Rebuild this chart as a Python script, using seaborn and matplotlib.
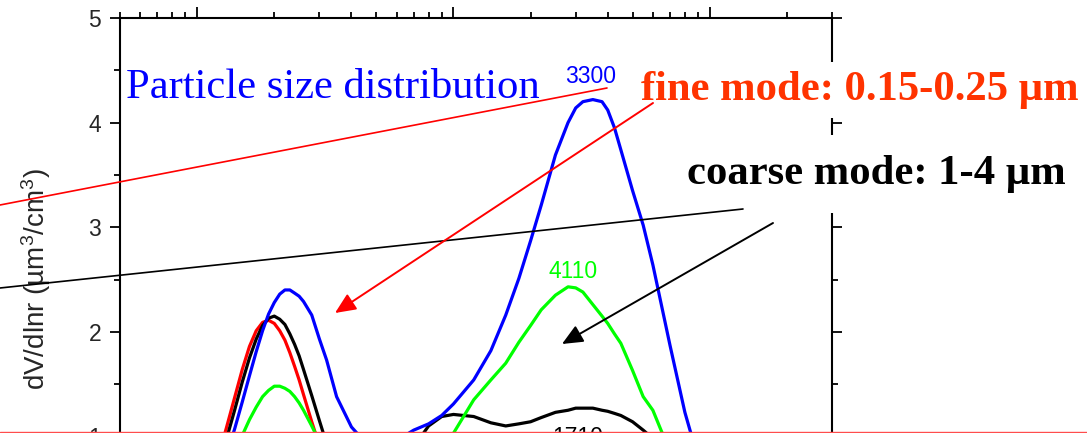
import matplotlib
matplotlib.use("Agg")
import matplotlib.pyplot as plt
import pandas as pd
import seaborn as sns
from matplotlib.lines import Line2D
from matplotlib.patches import FancyArrowPatch
from matplotlib.ticker import LogLocator, MultipleLocator, NullFormatter

# ---------------- data ----------------
size_um = [0.05, 0.07, 0.09, 0.10, 0.11, 0.12, 0.13, 0.14, 0.15, 0.16, 0.17, 0.18,
           0.19, 0.20, 0.21, 0.22, 0.23, 0.24, 0.25, 0.26, 0.28, 0.30, 0.32, 0.35,
           0.40, 0.45, 0.50, 0.55, 0.60, 0.70, 0.80, 0.90, 1.0, 1.2, 1.4, 1.6, 1.8,
           2.0, 2.2, 2.5, 2.8, 3.0, 3.2, 3.5, 3.8, 4.0, 4.25, 4.5, 5.0, 5.5, 6.0, 7.0, 8.0,
           10.0, 12.0, 15.0, 20.0, 30.0]

red_dv = [0.05, 0.06, 0.14, 0.29, 0.50, 0.78, 1.08, 1.37, 1.64, 1.86, 2.01, 2.09,
          2.11, 2.08, 2.01, 1.92, 1.80, 1.67, 1.54, 1.40, 1.14, 0.91, 0.71, 0.48,
          0.23, 0.12, 0.08, 0.07, 0.08, 0.12, 0.18, 0.25, 0.32, 0.45, 0.56, 0.65, 0.72,
          0.77, 0.80, 0.82, 0.82, 0.80, 0.78, 0.73, 0.68, 0.64, 0.60, 0.55, 0.46, 0.38, 0.31,
          0.20, 0.12, 0.05, 0.03, 0.02, 0.01, 0.0]

black_dv = [0.04, 0.05, 0.13, 0.26, 0.45, 0.69, 0.97, 1.25, 1.52, 1.75, 1.93, 2.06,
            2.13, 2.15, 2.12, 2.07, 1.98, 1.88, 1.77, 1.64, 1.39, 1.15, 0.93, 0.66,
            0.42, 0.33, 0.36, 0.48, 0.62, 0.90, 1.10, 1.19, 1.21, 1.19, 1.13, 1.10, 1.12,
            1.14, 1.18, 1.23, 1.25, 1.27, 1.27, 1.27, 1.25, 1.24, 1.22, 1.20, 1.14, 1.06, 0.98,
            0.82, 0.66, 0.40, 0.22, 0.10, 0.03, 0.0]

green_dv = [0.02, 0.04, 0.11, 0.21, 0.34, 0.49, 0.67, 0.84, 1.01, 1.16, 1.28, 1.38,
            1.44, 1.48, 1.48, 1.46, 1.43, 1.38, 1.32, 1.25, 1.10, 0.95, 0.80, 0.60,
            0.35, 0.25, 0.22, 0.25, 0.32, 0.55, 0.72, 0.88, 1.03, 1.35, 1.54, 1.70, 1.90,
            2.06, 2.21, 2.35, 2.43, 2.42, 2.38, 2.26, 2.15, 2.08, 1.98, 1.89, 1.63, 1.38, 1.25,
            0.85, 0.55, 0.25, 0.12, 0.05, 0.02, 0.0]

blue_dv = [0.03, 0.06, 0.12, 0.23, 0.38, 0.58, 0.82, 1.07, 1.33, 1.58, 1.81, 2.01,
           2.17, 2.28, 2.36, 2.40, 2.40, 2.37, 2.34, 2.29, 2.16, 1.93, 1.73, 1.38,
           1.09, 0.95, 0.89, 0.90, 0.96, 1.06, 1.12, 1.20, 1.31, 1.54, 1.82, 2.16, 2.51,
           2.87, 3.21, 3.69, 4.00, 4.14, 4.20, 4.22, 4.20, 4.12, 3.95, 3.74, 3.35, 3.02, 2.64,
           1.87, 1.23, 0.40, 0.15, 0.05, 0.02, 0.0]

series_names = ["red", "black", "green", "blue"]
series_colors = ["#ff0000", "#000000", "#00ff00", "#0000ff"]

peak_labels = ["3300", "4110", "1710"]
peak_label_x = [3.43, 2.92, 3.05]
peak_label_y = [4.38, 2.51, 0.93]
peak_label_colors = ["#0000ff", "#00ff00", "#000000"]

y_ticks = [1, 2, 3, 4, 5]
y_label = "dV/dlnr (µm$^3$/cm$^3$)"
title_text = "Particle size distribution"
fine_text = "fine mode: 0.15-0.25 µm"
coarse_text = "coarse mode: 1-4 µm"

# ---------------- style ----------------
sns.set_style("ticks")
plt.rcParams["font.family"] = ["Liberation Sans", "DejaVu Sans"]
plt.rcParams["mathtext.fontset"] = "custom"
plt.rcParams["mathtext.rm"] = "Liberation Sans"
plt.rcParams["mathtext.default"] = "regular"

W, H = 1087, 433
fig = plt.figure(figsize=(W / 100, H / 100), dpi=100)
ax = fig.add_axes([120 / W, 1 - 541 / H, 712 / W, 523 / H])


def fx(px):
    return px / W


def fy(py):
    return 1 - py / H


df = pd.concat([
    pd.DataFrame({"size": size_um, "dv": vals, "series": name})
    for name, vals in zip(series_names, [red_dv, black_dv, green_dv, blue_dv])
], ignore_index=True)

sns.lineplot(data=df, x="size", y="dv", hue="series", hue_order=series_names,
             palette=dict(zip(series_names, series_colors)), estimator=None,
             sort=False, legend=False, linewidth=2.3, ax=ax)

ax.set_xscale("log")
ax.set_xlim(0.05, 30)
ax.set_ylim(0, 5)
ax.set_xlabel("")
ax.set_ylabel(y_label, fontsize=20)
ax.yaxis.set_label_coords(-0.094, 0.5)

for s in ax.spines.values():
    s.set_visible(True)
    s.set_linewidth(1.5)
    s.set_color("black")

ax.xaxis.set_major_locator(LogLocator(base=10))
ax.xaxis.set_minor_locator(LogLocator(base=10, subs=[2, 3, 4, 5, 6, 7, 8, 9]))
ax.xaxis.set_minor_formatter(NullFormatter())
ax.tick_params(axis="x", which="both", top=True, bottom=False, labeltop=False,
               labelbottom=False, direction="out", width=1.3, color="black")
ax.tick_params(axis="x", which="major", length=8)
ax.tick_params(axis="x", which="minor", length=4)

ax.yaxis.set_major_locator(MultipleLocator(1))
ax.yaxis.set_minor_locator(MultipleLocator(0.5))
ax.set_yticks(y_ticks)
ax.set_yticklabels([str(t) for t in y_ticks])
ax.tick_params(axis="y", which="both", left=True, right=True, labelleft=True,
               labelright=False, direction="out", width=1.3, color="black")
ax.tick_params(axis="y", which="major", length=7.5, labelsize=16.5, pad=6)
ax.tick_params(axis="y", which="minor", length=4.5)

for lab, x, y, c in zip(peak_labels, peak_label_x, peak_label_y, peak_label_colors):
    ax.text(x, y, lab, color=c, fontsize=16.5, ha="center", va="baseline")

# ---------------- annotations ----------------
serif = ["Liberation Serif", "DejaVu Serif"]
fig.text(fx(126), fy(98), title_text, color="#0000ff", fontsize=30.7,
         family=serif, ha="left", va="baseline")
fig.text(fx(641), fy(100), fine_text, color="#ff3300", fontsize=30.7,
         family=serif, weight="bold", ha="left", va="baseline",
         bbox=dict(facecolor="white", edgecolor="none", pad=6))
fig.text(fx(687), fy(184), coarse_text, color="black", fontsize=30.7,
         family=serif, weight="bold", ha="left", va="baseline",
         bbox=dict(facecolor="white", edgecolor="none", pad=14))

# long pointer lines
fig.add_artist(Line2D([fx(0), fx(607)], [fy(205), fy(88)], transform=fig.transFigure,
                      color="#ff0000", lw=1.2, zorder=6))
fig.add_artist(Line2D([fx(0), fx(743)], [fy(288), fy(209)], transform=fig.transFigure,
                      color="black", lw=1.2, zorder=6))

# arrows
for tail, tip, col in [((653, 103), (335, 313), "#ff0000"),
                       ((773, 223), (562, 344), "black")]:
    fig.add_artist(FancyArrowPatch((fx(tail[0]), fy(tail[1])), (fx(tip[0]), fy(tip[1])),
                                   transform=fig.transFigure,
                                   arrowstyle="-|>,head_length=0.9,head_width=0.4",
                                   mutation_scale=14, color=col, lw=1.4,
                                   shrinkA=0, shrinkB=0, zorder=7))

# thin red rule at the very bottom
fig.add_artist(Line2D([0, 1], [fy(432.3), fy(432.3)], transform=fig.transFigure,
                      color="#ff4d4d", lw=1.0, zorder=8))

fig.savefig("out.png", dpi=100)
